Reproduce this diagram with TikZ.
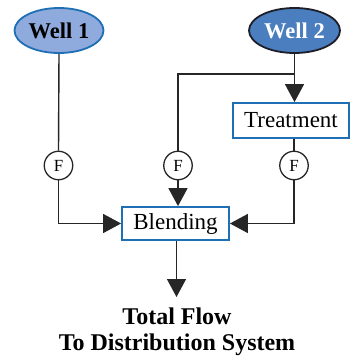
\documentclass[tikz,border=0pt]{standalone}
\usepackage{fontspec}
\setmainfont{Liberation Serif}
\usetikzlibrary{shapes.geometric,arrows.meta}
\definecolor{wellone}{RGB}{143,170,220}
\definecolor{welltwo}{RGB}{74,126,190}
\definecolor{boxblue}{RGB}{31,111,181}
\definecolor{darkline}{RGB}{30,30,40}
\begin{document}
\begin{tikzpicture}[x=1pt,y=-1pt,
  conn/.style={line width=1.4pt,draw=black!85},
  arr/.style={conn,-{Triangle[length=18pt,width=19pt]}},
  wellnode/.style={ellipse,inner sep=0pt,line width=1.8pt,font=\fontsize{22.5}{27}\selectfont\bfseries},
  procbox/.style={rectangle,draw=boxblue,line width=1.8pt,fill=white,inner sep=0pt,font=\fontsize{23}{27}\selectfont},
  meter/.style={circle,draw=black!85,line width=1.3pt,fill=white,minimum size=28.5pt,inner sep=0pt,font=\fontsize{17}{19}\selectfont},
  outtext/.style={anchor=base,inner sep=0pt,font=\fontsize{24}{28}\selectfont\bfseries}]
\useasboundingbox (0,0) rectangle (352,356);
\node[wellnode,fill=wellone,draw=boxblue,minimum width=89pt,minimum height=45pt] (w1) at (59,30.5) {Well 1};
\node[wellnode,fill=welltwo,draw=darkline,text=white,minimum width=91pt,minimum height=45pt] (w2) at (294.5,30.5) {Well 2};
\node[procbox,minimum width=116pt,minimum height=35pt] (treat) at (291,120.5) {Treatment};
\node[procbox,minimum width=107pt,minimum height=33pt] (blend) at (175.5,223.5) {Blending};
\node[meter] (f1) at (58.5,165.5) {F};
\node[meter] (f2) at (178,165.5) {F};
\node[meter] (f3) at (294,165.5) {F};
\coordinate (j) at (294,74);
\coordinate (jl) at (178,74);
\coordinate (out) at (176.5,297);
\node[outtext] (t1) at (177,324) {Total Flow};
\node[outtext] (t2) at (177,350) {To Distribution System};
% Well 1
\draw[conn] (w1.south) -- (f1.north);
\draw[arr] (f1.south) |- (blend.west);
% Well 2
\draw[arr] (w2.south) -- (w2.south |- treat.north);
\draw[conn] (j) -- (jl) -- (f2.north);
\draw[arr] (f2.south) -- (f2.south |- blend.north);
\draw[conn] (f3.north |- treat.south) -- (f3.north);
\draw[arr] (f3.south) |- (blend.east);
% out
\draw[arr] (blend.south -| out) -- (out);
\end{tikzpicture}
\end{document}
